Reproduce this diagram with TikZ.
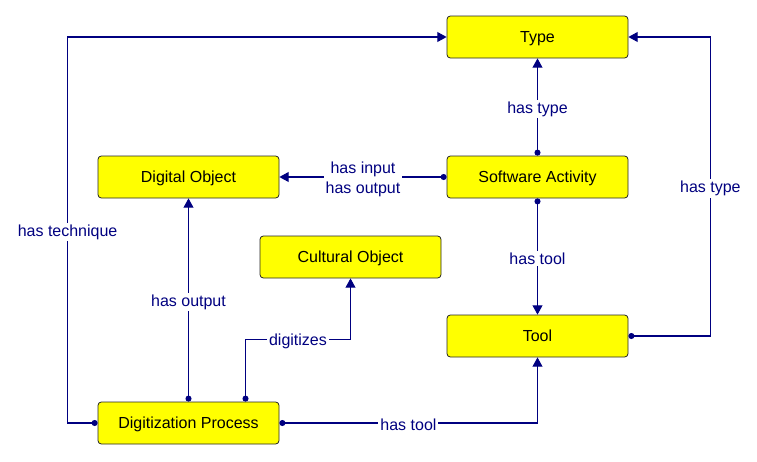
\documentclass[tikz,border=0pt]{standalone}
\usepackage{fontspec}
\setmainfont{Liberation Sans}
\usetikzlibrary{calc}
\usetikzlibrary{positioning}
\usetikzlibrary{arrows.meta}
\definecolor{relblue}{HTML}{000080}
\definecolor{boxyellow}{HTML}{FFFF00}

\begin{document}
\begin{tikzpicture}[x=0.75pt, y=-0.75pt,
  font=\fontsize{12}{14}\selectfont,
  entity/.style={draw=black!85, fill=boxyellow, rounded corners=2.5pt, line width=0.6pt,
    minimum width=135.75pt, minimum height=31.5pt, inner sep=0pt, text depth=0pt},
  rel/.style={draw=relblue, line width=0.8pt, {Circle[length=4.5pt]}-{Triangle[length=7pt,width=7.5pt]}},
  lbl/.style={fill=white, text=relblue, inner sep=1.5pt, align=center, yshift=-1.5pt,
    font=\fontsize{12}{15}\selectfont}
  ]
  \useasboundingbox (0,0) rectangle (757,461);

  \node [entity] (type) at (537.5,37) {Type};
  \node [entity] (sa)   at (537.5,177) {Software Activity};
  \node [entity] (do)   at (188.5,177) {Digital Object};
  \node [entity] (co)   at (350.5,257) {Cultural Object};
  \node [entity] (tool) at (537.5,336) {Tool};
  \node [entity] (dp)   at (188.5,423) {Digitization Process};

  % relations
  \draw [rel] (sa.north) -- node[lbl] {has type} (type.south);
  \draw [rel] (sa.south) -- node[lbl] {has tool} (tool.north);
  \draw [rel] (sa.west) -- node[lbl] {has input\\has output} (do.east);
  \draw [rel] (tool.east) -- ++(82,0) |- node[lbl, pos=0.25] {has type} (type.east);
  \draw [rel] (dp.west) -- ++(-30,0) |- node[lbl, pos=0.25] {has technique} (type.west);
  \draw [rel] (dp.north) -- node[lbl] {has output} (do.south);
  \draw [rel] ($(dp.north)+(57,0)$) -- ++(0,-62) -| node[lbl, pos=0.25] {digitizes} (co.south);
  \draw [rel] (dp.east) -| node[lbl, pos=0.25] {has tool} (tool.south);
\end{tikzpicture}
\end{document}
